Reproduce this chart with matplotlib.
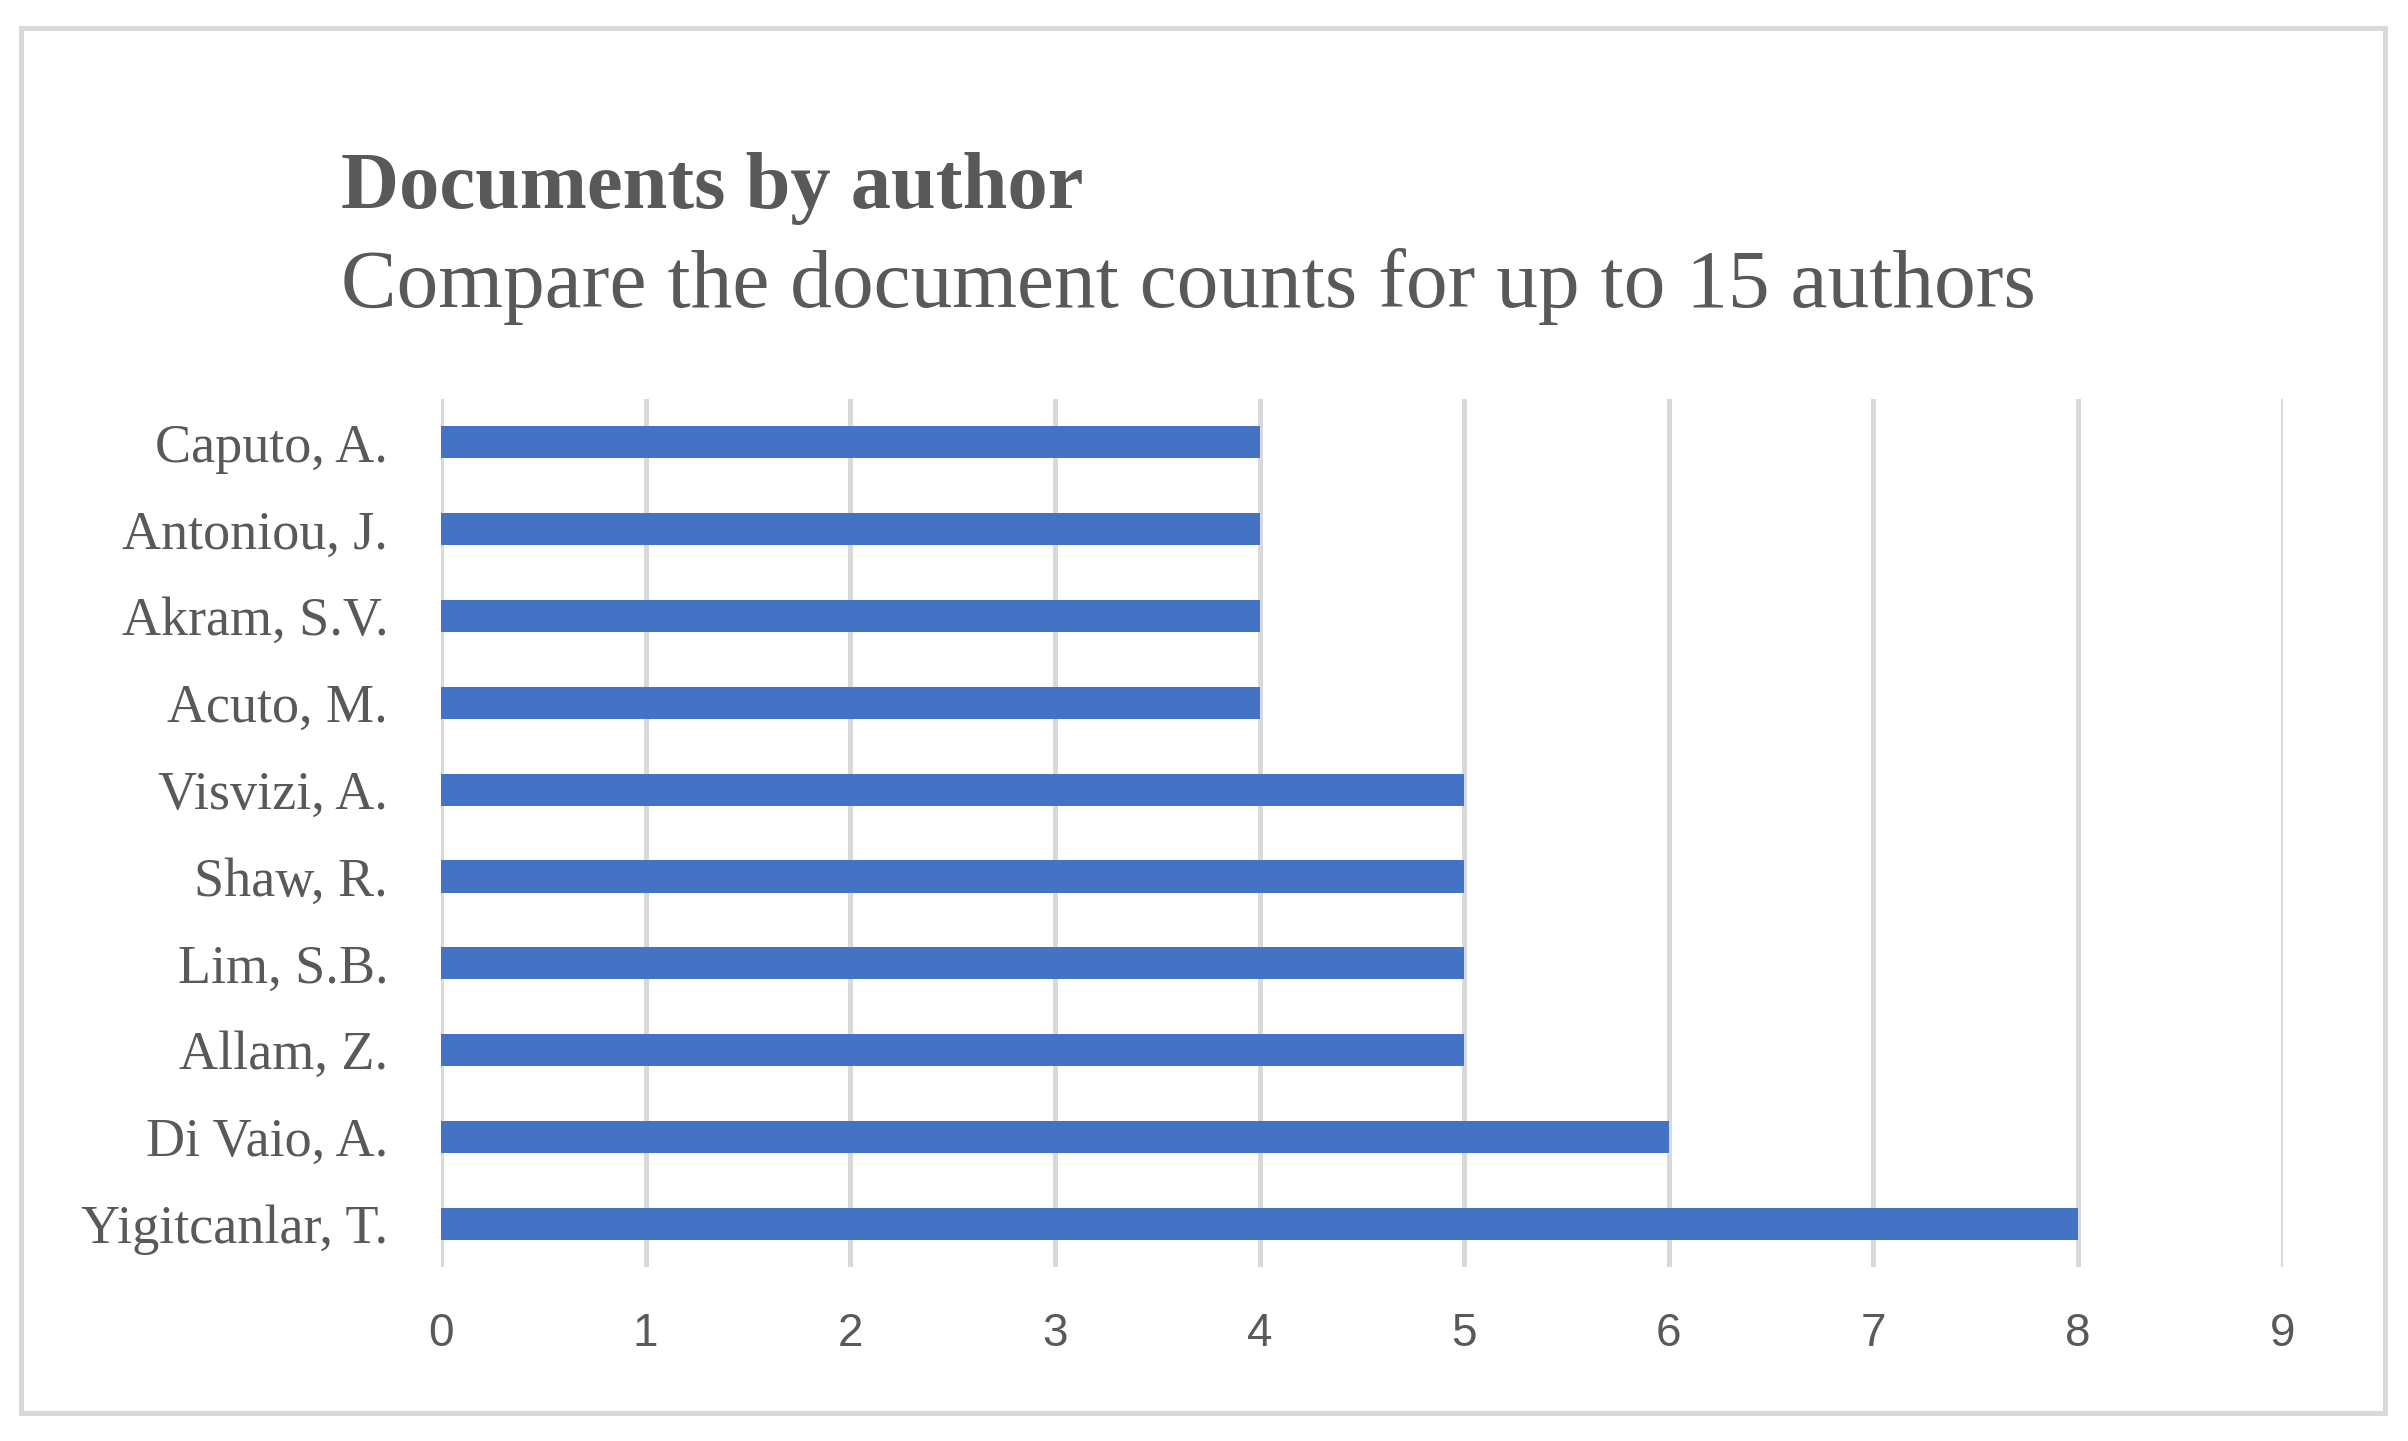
import matplotlib.pyplot as plt
from matplotlib.patches import Rectangle

# data (bottom to top as drawn)
authors = ['Yigitcanlar, T.', 'Di Vaio, A.', 'Allam, Z.', 'Lim, S.B.', 'Shaw, R.',
           'Visvizi, A.', 'Acuto, M.', 'Akram, S.V.', 'Antoniou, J.', 'Caputo, A.']
docs = [8, 6, 5, 5, 5, 5, 4, 4, 4, 4]
xticks = list(range(0, 10))

grey = '#595959'
grid = '#D9D9D9'
blue = '#4472C4'
serif = ['Liberation Serif', 'DejaVu Serif']

fig = plt.figure(figsize=(24.08, 14.41), dpi=100)
ax = fig.add_axes([0.1831, 0.1207, 0.948 - 0.1831, 0.7231 - 0.1207])

ax.barh(range(len(authors)), docs, height=0.37, color=blue, zorder=3)
ax.set_ylim(-0.5, len(authors) - 0.5)
ax.set_xlim(0, 9)
ax.set_xticks(xticks)
ax.set_yticks(range(len(authors)))
ax.set_yticklabels(authors, family=serif, fontsize=39, color=grey)
ax.set_xticklabels([str(t) for t in xticks], family='Liberation Sans', fontsize=33, color=grey)
ax.tick_params(axis='y', length=0, pad=38)
ax.tick_params(axis='x', length=0, pad=32)
ax.xaxis.grid(True, color=grid, lw=3.6, zorder=0)
ax.set_axisbelow(True)
for s in ax.spines.values():
    s.set_visible(False)

fig.text(0.1416, 0.856, 'Documents by author', family=serif, fontsize=58,
         fontweight='bold', color=grey)
fig.text(0.1416, 0.787, 'Compare the document counts for up to 15 authors',
         family=serif, fontsize=60, color=grey)

# outer frame
fig.patches.append(Rectangle((21 / 2408, 1 - 1413 / 1441), (2385 - 21) / 2408,
                             (1413 - 28) / 1441, transform=fig.transFigure,
                             fill=False, edgecolor=grid, lw=3.6))

fig.savefig('out.png', dpi=100)
